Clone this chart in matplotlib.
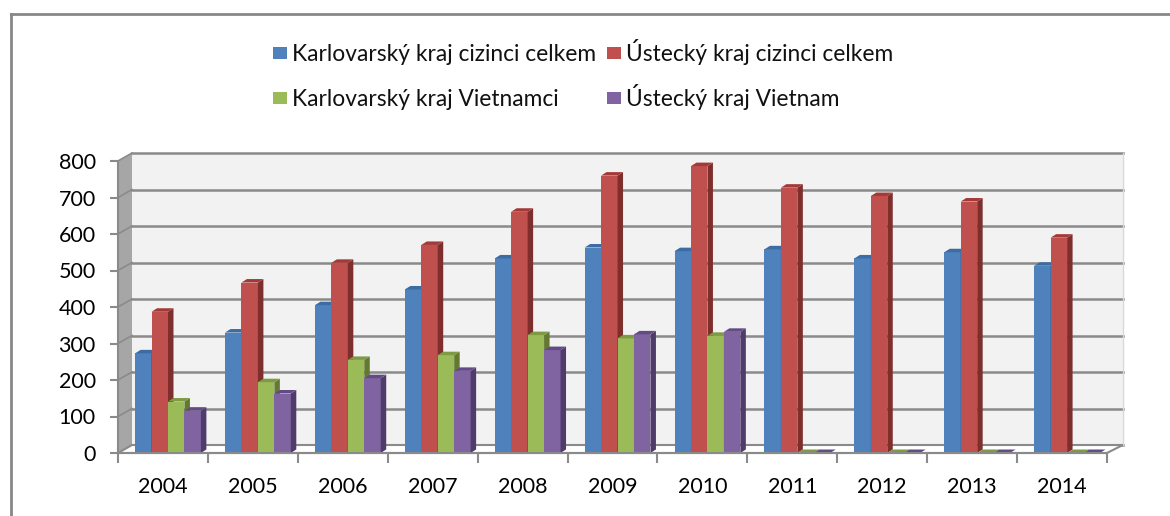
import numpy as np
import matplotlib
matplotlib.use('Agg')
import matplotlib.pyplot as plt
from matplotlib.patches import Rectangle, Polygon

plt.rcParams['font.family'] = ['Lato', 'DejaVu Sans']

# data
years = ['2004', '2005', '2006', '2007', '2008', '2009', '2010', '2011', '2012', '2013', '2014']
karlovarsky_celkem = [273, 330, 405, 448, 533, 563, 553, 558, 533, 550, 513]
ustecky_celkem = [387, 467, 521, 570, 661, 760, 786, 727, 704, 689, 590]
karlovarsky_vietnamci = [141, 194, 255, 268, 323, 314, 321, 0, 0, 0, 0]
ustecky_vietnam = [116, 163, 205, 225, 282, 325, 332, 0, 0, 0, 0]

labels = ['Karlovarský kraj cizinci celkem', 'Ústecký kraj cizinci celkem',
          'Karlovarský kraj Vietnamci', 'Ústecký kraj Vietnam']
series = [karlovarsky_celkem, ustecky_celkem, karlovarsky_vietnamci, ustecky_vietnam]
front_cols = ['#4F81BD', '#C0504D', '#9BBB59', '#8064A2']
side_cols = ['#2F5486', '#7E2F2D', '#62792F', '#4F3C6B']
top_cols = ['#3D6BA3', '#A33A37', '#7E9A42', '#634C85']

W, H = 1170, 516
fig = plt.figure(figsize=(W / 100, H / 100), dpi=100)

# front plane of the plot in pixels
x_left, x_right = 118, 1107
y_zero, y_top = 453, 161
ax = fig.add_axes([x_left / W, (H - y_zero) / H, (x_right - x_left) / W, (y_zero - y_top) / H])
ax.set_xlim(0, len(years))
ax.set_ylim(0, 800)

px_x = (x_right - x_left) / len(years)   # pixels per category
px_y = (y_zero - y_top) / 800.0          # pixels per unit

# wall depth offset
DX = 14 / px_x
DY = 8 / px_y
n = len(years)
grid_col = '#8A8A8A'

# back wall, side wall, floor
ax.add_patch(Polygon([(DX, DY), (n + DX + 0.02, DY), (n + DX + 0.02, 800 + DY), (DX, 800 + DY)],
                     closed=True, fc='#F2F2F2', ec='none', zorder=0, clip_on=False))
ax.add_patch(Polygon([(0, 0), (DX, DY), (DX, 800 + DY), (0, 800)],
                     closed=True, fc='#A6A6A6', ec='none', zorder=0, clip_on=False))
ax.add_patch(Polygon([(0, 0), (n, 0), (n + DX + 0.02, DY), (DX, DY)],
                     closed=True, fc='white', ec=grid_col, lw=1.5, zorder=1, clip_on=False))
for v in range(0, 801, 100):
    ax.plot([DX, n + DX + 0.02], [v + DY, v + DY], color=grid_col, lw=1.8, zorder=0.5, clip_on=False)
    ax.plot([0, DX], [v, v + DY], color=grid_col, lw=1.2, zorder=0.5, clip_on=False)
ax.plot([n + DX + 0.02, n + DX + 0.02], [DY, 800 + DY], color='#D9D9D9', lw=1, zorder=0.5, clip_on=False)

# bars with 3d look
bw = 0.183
off = 0.19
bdx = 5.5 / px_x
bdy = 3.5 / px_y
for i in range(n):
    for s in range(4):
        h = series[s][i]
        x0 = i + off + s * bw
        z = 2 + i * 4 + s
        if h > 0:
            ax.add_patch(Rectangle((x0, 0), bw, h, fc=front_cols[s], ec='none', zorder=z))
            ax.add_patch(Polygon([(x0 + bw, 0), (x0 + bw + bdx, bdy), (x0 + bw + bdx, h + bdy), (x0 + bw, h)],
                                 closed=True, fc=side_cols[s], ec='none', zorder=z, clip_on=False))
        ax.add_patch(Polygon([(x0, h), (x0 + bw, h), (x0 + bw + bdx, h + bdy), (x0 + bdx, h + bdy)],
                             closed=True, fc=top_cols[s], ec='none', zorder=z, clip_on=False))

# axes
for sp in ['top', 'right']:
    ax.spines[sp].set_visible(False)
ax.spines['left'].set_color(grid_col)
ax.spines['bottom'].set_color(grid_col)
ax.spines['left'].set_linewidth(1.5)
ax.spines['bottom'].set_linewidth(1.5)
ax.spines['left'].set_zorder(100)
ax.spines['bottom'].set_zorder(100)
ax.patch.set_visible(False)

ax.set_yticks(range(0, 801, 100))
ax.set_xticks(range(0, n + 1))
ax.set_xticklabels([])
ax.set_xticks(np.arange(n) + 0.5, minor=True)
ax.set_xticklabels(years, minor=True)
ax.tick_params(axis='y', length=6, width=1.5, color=grid_col, labelsize=15.5, pad=10)
ax.tick_params(axis='x', which='major', length=7, width=1.5, color=grid_col)
ax.tick_params(axis='x', which='minor', length=0, labelsize=15.5, pad=17)

# legend drawn by hand
leg_x = [273, 607]
leg_y = [53, 98]
for k, lab in enumerate(labels):
    cx = leg_x[k % 2]
    cy = leg_y[k // 2]
    fig.patches.append(Rectangle((cx / W, (H - cy - 6) / H), 14 / W, 12 / H,
                                 transform=fig.transFigure, fc=front_cols[k], ec='none'))
    fig.text((cx + 19) / W, (H - cy - 8) / H, lab, fontsize=16.4, va='baseline', ha='left', color='#111111')

# chart frame
fig.add_artist(plt.Line2D([11 / W, 11 / W], [0, (H - 14) / H], transform=fig.transFigure, color='#878787', lw=2))
fig.add_artist(plt.Line2D([11 / W, 1], [(H - 14) / H, (H - 14) / H], transform=fig.transFigure, color='#878787', lw=2))

fig.savefig('out.png', dpi=100)
